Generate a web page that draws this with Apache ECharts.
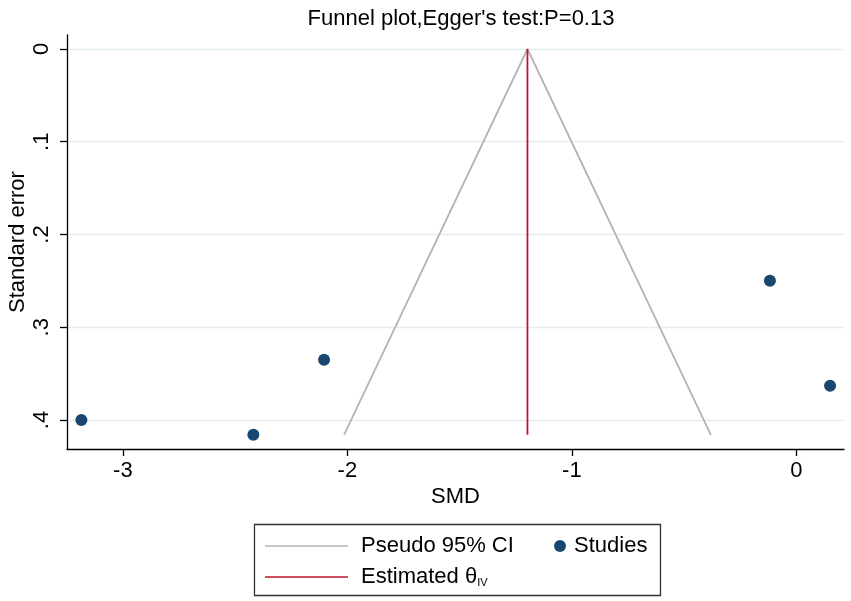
<!doctype html>
<html>
<head>
<meta charset="utf-8"/>
<title>funnel plot</title>
<script src="https://cdn.jsdelivr.net/npm/echarts@6/dist/echarts.min.js"></script>
<style>
*{margin:0;padding:0;}
body{background:#ffffff;}
#main{width:851px;height:601px;}
</style>
</head>
<body>
<div id="main"></div>
<script type="text/javascript">

// studies: [SMD, standard error]
var studies = [
  [-3.185, 0.400],
  [-2.419, 0.416],
  [-2.104, 0.335],
  [-0.118, 0.250],
  [0.150, 0.363]
];
// pseudo 95% CI funnel (theta +/- 1.96*se)
var funnelPoints = [
  [-2.015, 0.416],
  [-1.198, 0],
  [-0.381, 0.416]
];
// estimated theta (IV)
var thetaLine = [
  [-1.198, 0],
  [-1.198, 0.416]
];
var xTicks = [-3, -2, -1, 0];
var yTicks = [0, 0.1, 0.2, 0.3, 0.4];

var FONT = 'Liberation Sans';
var FS = 22;
var chart = echarts.init(document.getElementById('main'));

var option = {
  animation: false,
  backgroundColor: '#ffffff',
  textStyle: {fontFamily: FONT},
  title: {
    text: "Funnel plot,Egger's test:P=0.13",
    left: 456,
    top: 3,
    textAlign: 'center',
    textStyle: {fontFamily: FONT, fontSize: FS, fontWeight: 'normal', color: '#000'}
  },
  grid: {left: 67, right: 7, top: 35, bottom: 152, containLabel: false, outerBoundsMode: 'none'},
  xAxis: {
    type: 'value',
    min: -3.249,
    max: 0.212,
    name: 'SMD',
    nameLocation: 'middle',
    nameGap: 37,
    nameMoveOverlap: false,
    nameTextStyle: {fontFamily: FONT, fontSize: FS, color: '#000'},
    axisLine: {onZero: false, lineStyle: {color: '#000', width: 1.3}},
    axisTick: {show: true, length: 7, customValues: xTicks, lineStyle: {color: '#000', width: 1.3}},
    axisLabel: {
      customValues: xTicks,
      margin: 11,
      fontFamily: FONT, fontSize: FS, color: '#000',
      formatter: function (v) { return String(v); }
    },
    splitLine: {show: false}
  },
  yAxis: {
    type: 'value',
    inverse: true,
    min: -0.0151,
    max: 0.4313,
    name: 'Standard error',
    nameLocation: 'middle',
    nameGap: 38,
    nameMoveOverlap: false,
    nameTextStyle: {fontFamily: FONT, fontSize: FS, color: '#000'},
    axisLine: {onZero: false, lineStyle: {color: '#000', width: 1.3}},
    axisTick: {show: true, length: 7, customValues: yTicks, lineStyle: {color: '#000', width: 1.3}},
    axisLabel: {
      customValues: yTicks,
      rotate: 90,
      margin: 14,
      fontFamily: FONT, fontSize: FS, color: '#000',
      formatter: function (v) { return v === 0 ? '0' : String(Math.round(v * 10) / 10).replace(/^0/, ''); }
    },
    splitLine: {show: true, lineStyle: {color: '#e4edf1', width: 1.3}}
  },
  legend: [
    {
      data: [{name: 'Pseudo 95% CI', icon: 'path://M0,0L100,0L100,2L0,2Z'}],
      left: 260, top: 530,
      itemWidth: 83, itemHeight: 2,
      selectedMode: false,
      formatter: '{t|{name}}',
      textStyle: {rich: {t: {fontFamily: FONT, fontSize: FS, color: '#000', padding: [0, 0, 0, 8]}}}
    },
    {
      data: [{name: 'Studies', icon: 'circle'}],
      left: 549, top: 530,
      itemWidth: 12, itemHeight: 12,
      selectedMode: false,
      formatter: '{t|{name}}',
      textStyle: {rich: {t: {fontFamily: FONT, fontSize: FS, color: '#000', padding: [0, 0, 0, 3]}}}
    },
    {
      data: [{name: 'Estimated θ', icon: 'path://M0,0L100,0L100,2L0,2Z'}],
      left: 260, top: 561,
      itemWidth: 83, itemHeight: 2,
      selectedMode: false,
      formatter: '{t|{name}}{s|IV}',
      textStyle: {rich: {
        t: {fontFamily: FONT, fontSize: FS, color: '#000', padding: [0, 0, 0, 8]},
        s: {fontFamily: FONT, fontSize: 11, color: '#000', verticalAlign: 'bottom', padding: [7, 0, 0, 0]}
      }}
    }
  ],
  graphic: [
    {
      type: 'rect',
      left: 252, top: 522,
      shape: {width: 406, height: 71},
      style: {fill: 'none', stroke: '#333', lineWidth: 1.3},
      z: -1
    }
  ],
  series: [
    {
      name: 'Pseudo 95% CI',
      type: 'line',
      data: funnelPoints,
      showSymbol: false,
      symbol: 'none',
      lineStyle: {color: '#b4b4b4', width: 1.8},
      itemStyle: {color: '#b4b4b4'},
      z: 2
    },
    {
      name: 'Estimated θ',
      type: 'line',
      data: thetaLine,
      showSymbol: false,
      symbol: 'none',
      lineStyle: {color: '#c0142c', width: 1.8},
      itemStyle: {color: '#c0142c'},
      z: 3
    },
    {
      name: 'Studies',
      type: 'scatter',
      data: studies,
      symbolSize: 12,
      itemStyle: {color: '#1a476f', opacity: 1},
      z: 4
    }
  ]
};
chart.setOption(option);

</script>
</body>
</html>
